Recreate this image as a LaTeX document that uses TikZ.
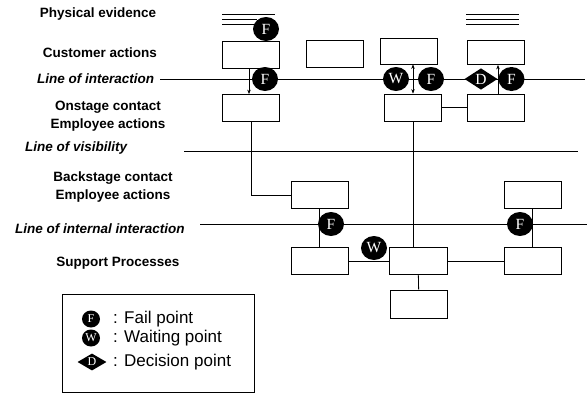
\documentclass[tikz,border=0pt]{standalone}
\usepackage{fontspec}
\setmainfont{Liberation Sans}
\newfontfamily\markfont{Liberation Serif}
\usetikzlibrary{arrows.meta, calc, shapes.geometric}

\begin{document}
\begin{tikzpicture}[x=1pt, y=-1pt,
  every node/.style = {inner sep=0pt},
  lanelabel/.style = {font=\fontsize{13.5}{18}\selectfont\bfseries, align=center},
  lanename/.style  = {font=\fontsize{13.5}{15}\selectfont\bfseries\itshape, anchor=west},
  actbox/.style    = {draw, line width=0.8pt, minimum width=57pt, minimum height=27pt},
  lane/.style      = {line width=0.9pt},
  link/.style      = {line width=0.8pt},
  arr/.style       = {-{Stealth[length=4.5pt,width=3.5pt]}, line width=0.6pt},
  dblarr/.style    = {{Stealth[length=4.5pt,width=3.5pt]}-{Stealth[length=4.5pt,width=3.5pt]}, line width=0.6pt},
  failpt/.style    = {ellipse, fill=black, text=white, minimum width=26pt, minimum height=24pt, font=\markfont\fontsize{15.5}{15.5}\selectfont},
  waitpt/.style    = {failpt},
  decpt/.style     = {diamond, fill=black, text=white, minimum width=33pt, minimum height=21pt, font=\markfont\fontsize{15.5}{15.5}\selectfont},
  legmark/.style   = {minimum width=18pt, minimum height=17pt, font=\markfont\fontsize{12}{12}\selectfont},
  legtext/.style   = {font=\fontsize{17}{19}\selectfont, anchor=west},
]
\useasboundingbox (0,0) rectangle (587,394);
% Lane labels
\node[lanelabel] (lphys) at (98,14)   {Physical evidence};
\node[lanelabel] (lcust) at (100,53)  {Customer actions};
\node[lanename]  (lint)  at (37,79)   {Line of interaction};
\node[lanelabel] (lon)   at (108,116) {Onstage contact\\Employee actions};
\node[lanename]  (lvis)  at (25,148)  {Line of visibility};
\node[lanelabel] (lback) at (113,187) {Backstage contact\\Employee actions};
\node[lanename]  (lintr) at (15,229)  {Line of internal interaction};
\node[lanelabel] (lsupp) at (118,263) {Support Processes};
% Lane lines
\draw[lane] (160,79) -- (585,79);
\draw[lane] (184,151) -- (578,151);
\draw[lane] (200,224) -- (587,224);
% Physical evidence
\draw[link] (222,14) -- (275,14);
\draw[link] (222,19) -- (257,19);
\draw[link] (222,24) -- (256,24);
\draw[link] (466,14) -- (519,14);
\draw[link] (466,19) -- (519,19);
\draw[link] (466,24) -- (519,24);
% Customer actions
\node[actbox] (cust1) at (251,54.5) {};
\node[actbox] (cust2) at (334.5,54) {};
\node[actbox, minimum height=26pt] (cust3) at (409,51) {};
\node[actbox, minimum height=24pt] (cust4) at (495.5,52.5) {};
% Onstage layer
\node[actbox] (onst1) at (251,108) {};
\node[actbox] (onst2) at (413,107.5) {};
\node[actbox] (onst3) at (495.5,107.5) {};
% Backstage layer
\node[actbox] (back1) at (319.5,195) {};
\node[actbox] (back2) at (532.5,195) {};
% Support layer
\node[actbox] (supp1) at (319.5,261) {};
\node[actbox, minimum width=58pt] (supp2) at (418,261) {};
\node[actbox] (supp3) at (532.5,261) {};
\node[actbox, minimum height=28pt] (supp4) at (419,304) {};
% Connectors
\draw[arr] ([xshift=-2pt]cust1.south) -- ([xshift=-2pt]onst1.north);
\draw[dblarr] (onst2.north) -- (onst2.north |- cust3.south);
\draw[arr] ([xshift=2.5pt]onst3.north) -- ([xshift=2.5pt]onst3.north |- cust4.south);
\draw[link] (onst2) -- (onst3);
\draw[link] (onst1.south) |- (back1.west);
\draw[link] (onst2.south) -- (onst2.south |- supp2.north);
\draw[link] (back1) -- (supp1);
\draw[link] (back2) -- (supp3);
\draw[link] (supp1) -- (supp2);
\draw[link] (supp2) -- (supp3);
\draw[link] (supp2) -- (supp4);
% Fail, waiting and decision points
\node[failpt] (fev)   at (266,29)  {F};
\node[failpt] (fint1) at (265,79)  {F};
\node[waitpt] (wint)  at (396,79)  {W};
\node[failpt] (fint2) at (431,79)  {F};
\node[decpt]  (dint)  at (481,79)  {D};
\node[failpt] (fint3) at (511.5,79) {F};
\node[failpt] (fin1)  at (331,224) {F};
\node[failpt] (fin2)  at (520,224) {F};
\node[waitpt] (wsup)  at (374,248) {W};
% Legend
\node[draw, line width=0.8pt, minimum width=192pt, minimum height=98pt] (legend) at (158,343) {};
\node[failpt, legmark] (legf) at (91,319) {F};
\node[legtext] (legft) at (113,319) {: Fail point};
\node[waitpt, legmark] (legw) at (91,338) {W};
\node[legtext] (legwt) at (113,338) {: Waiting point};
\node[decpt, legmark, minimum width=29pt, minimum height=17pt] (legd) at (92,362) {D};
\node[legtext] (legdt) at (113,362) {: Decision point};
\end{tikzpicture}
\end{document}
